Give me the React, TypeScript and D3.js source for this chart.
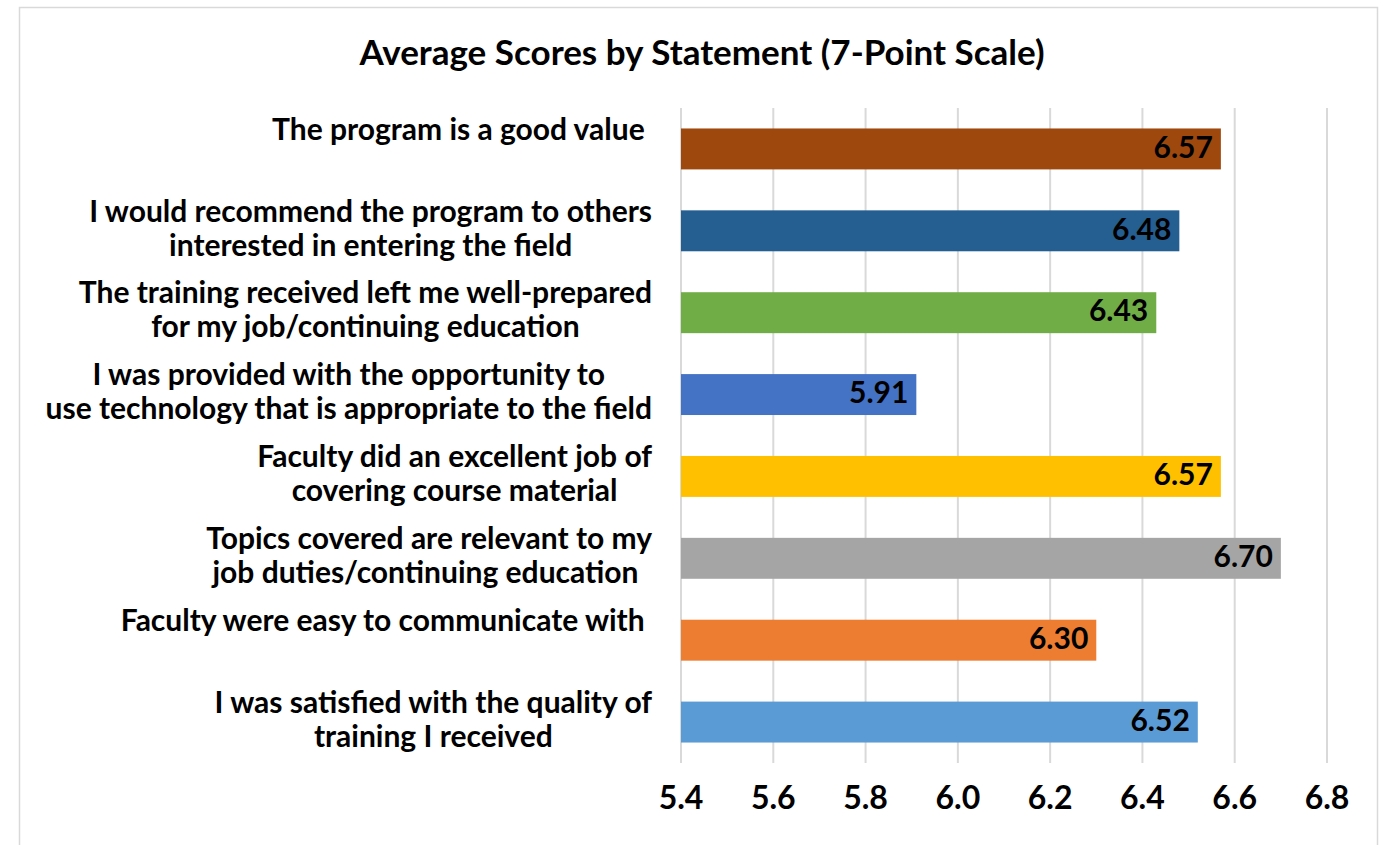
import React, { useEffect, useRef } from 'react'
import * as d3 from 'd3'

const statements = [
  ['The program is a good value ', ''],
  ['I would recommend the program to others', 'interested in entering the field'],
  ['The training received left me well-prepared', 'for my job/continuing education'],
  ['I was provided with the opportunity to', 'use technology that is appropriate to the field'],
  ['Faculty did an excellent job of', 'covering course material'],
  ['Topics covered are relevant to my', 'job duties/continuing education '],
  ['Faculty were easy to communicate with ', ''],
  ['I was satisfied with the quality of', 'training I received'],
]
const scores = [6.57, 6.48, 6.43, 5.91, 6.57, 6.7, 6.3, 6.52]
const barColors = ['#9E480E', '#255E91', '#70AD47', '#4472C4', '#FFC000', '#A5A5A5', '#ED7D31', '#5B9BD5']
const xTicks = [5.4, 5.6, 5.8, 6.0, 6.2, 6.4, 6.6, 6.8]

const W = 1385
const H = 845
const FONT = 'Lato, "Open Sans", sans-serif'

export default function App() {
  const ref = useRef<SVGSVGElement | null>(null)

  useEffect(() => {
    const svg = d3.select(ref.current)
    svg.selectAll('*').remove()

    const x = d3.scaleLinear().domain([5.4, 6.8]).range([681, 1327])
    const y = d3.scaleBand<number>()
      .domain(d3.range(statements.length))
      .range([108, 763])
      .paddingInner(0.5)
      .paddingOuter(0.25)

    // chart border
    svg.append('rect')
      .attr('x', 19.5).attr('y', 7.5)
      .attr('width', 1358).attr('height', 860)
      .attr('fill', '#fff').attr('stroke', '#d9d9d9').attr('stroke-width', 1.5)

    svg.append('text')
      .attr('x', 702).attr('y', 56)
      .attr('text-anchor', 'middle').attr('dominant-baseline', 'middle')
      .style('font-family', FONT).style('font-weight', 700).style('font-size', '35px')
      .text('Average Scores by Statement (7-Point Scale)')

    // gridlines
    svg.append('g').selectAll('line').data(xTicks).enter().append('line')
      .attr('x1', d => x(d)).attr('x2', d => x(d))
      .attr('y1', 108).attr('y2', 763)
      .attr('stroke', '#d9d9d9').attr('stroke-width', 2)

    // tick labels
    svg.append('g').selectAll('text').data(xTicks).enter().append('text')
      .attr('x', d => x(d)).attr('y', 801)
      .attr('text-anchor', 'middle').attr('dominant-baseline', 'middle')
      .style('font-family', FONT).style('font-weight', 700).style('font-size', '32px')
      .text(d => d3.format('.1f')(d))

    const bars = svg.append('g').selectAll('g').data(scores).enter().append('g')
    bars.append('rect')
      .attr('x', x(5.4))
      .attr('y', (d, i) => y(i)!)
      .attr('width', d => x(d) - x(5.4))
      .attr('height', y.bandwidth())
      .attr('fill', (d, i) => barColors[i])
    bars.append('text')
      .attr('x', d => x(d) - 8)
      .attr('y', (d, i) => y(i)! + y.bandwidth() / 2 + 1)
      .attr('text-anchor', 'end').attr('dominant-baseline', 'middle')
      .style('font-family', FONT).style('font-weight', 700).style('font-size', '30px')
      .text(d => d3.format('.2f')(d))

    // category labels: two-line blocks, lines centered, block right-aligned
    const labelRight = 652
    statements.forEach((lines, i) => {
      const cy = y(i)! + y.bandwidth() / 2
      const g = svg.append('g')
      const texts = lines.map((ln, k) => g.append('text')
        .attr('y', cy + (k === 0 ? -17 : 17))
        .attr('text-anchor', 'middle').attr('dominant-baseline', 'middle')
        .style('white-space', 'pre')
        .style('font-family', FONT).style('font-weight', 700).style('font-size', '30px')
        .text(ln))
      const widths = texts.map(t => (t.node() as SVGTextElement).getComputedTextLength())
      const bw = Math.max(...widths)
      texts.forEach(t => t.attr('x', labelRight - bw / 2))
    })
  }, [])

  return (
    <svg ref={ref} width={W} height={H}
      style={{ position: 'absolute', left: 0, top: 0, background: '#fff' }} />
  )
}
